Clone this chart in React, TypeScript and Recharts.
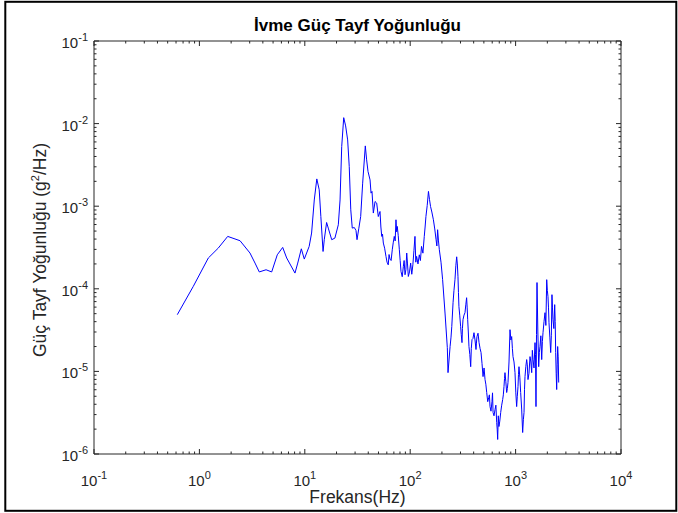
import { Line, LineChart, XAxis, YAxis } from "recharts";

// values (Hz, g^2/Hz)
const frequencyHz = [
  0.617, 0.875, 1.215, 1.51, 1.856, 2.43, 3.02, 3.37, 3.7, 4.29,
  4.85, 5.48, 6.17, 6.73, 8.07, 8.57, 9.27, 9.89, 11.0, 11.6,
  12.3, 13.0, 13.7, 14.2, 14.9, 15.3, 16.1, 16.7, 18.0, 19.3,
  20.8, 21.6, 22.4, 23.4, 24.4, 25.5, 26.4, 27.3, 28.2, 29.5,
  30.6, 31.3, 32.5, 33.9, 35.4, 37.5, 38.6, 39.8, 41.6, 42.5,
  43.4, 44.7, 46.4, 48.1, 49.8, 51.7, 52.7, 53.7, 54.6, 55.6,
  57.2, 58.9, 60.3, 61.9, 63.0, 64.3, 65.9, 67.6, 69.0, 70.6,
  72.0, 73.3, 74.4, 75.4, 77.0, 78.9, 80.3, 81.8, 84.0, 86.1,
  87.6, 89.3, 91.0, 92.7, 94.3, 96.0, 98.5, 101, 103.5, 106,
  108.5, 111, 113, 115, 118.5, 122, 125, 128, 132, 136,
  138.5, 141, 145, 149, 152.5, 156, 160.5, 166, 171, 176,
  179, 182, 185.5, 189, 196, 203, 214, 225, 228.5, 239,
  244, 248, 255, 260, 266, 271, 276, 280, 284, 287,
  290, 295, 301, 305, 310, 313, 317, 324, 331, 337,
  343, 347, 351, 356, 361, 368, 375, 380, 386, 394,
  403, 412, 421, 425, 430, 440, 450, 460, 470, 480,
  491, 502, 513, 522, 532, 544, 556, 564, 572, 584,
  597, 604, 611, 624, 638, 650, 662, 669, 676, 685,
  695, 708, 722, 738, 754, 765, 776, 785, 793, 808,
  823, 835, 847, 866, 885, 902, 918, 932, 945, 966,
  987, 1005, 1023, 1038, 1054, 1065, 1077, 1097, 1117, 1142,
  1167, 1185, 1202, 1215, 1228, 1251, 1274, 1292, 1311, 1340,
  1370, 1396, 1422, 1442, 1463, 1495, 1528, 1545, 1561, 1579,
  1596, 1626, 1656, 1680, 1704, 1736, 1769, 1795, 1820, 1860,
  1901, 1937, 1973, 2001, 2029, 2051, 2074, 2113, 2153, 2183,
  2213, 2238, 2263, 2306, 2349, 2375, 2400, 2427, 2453, 2480,
  2507, 2535, 2564,
];

const psdValues = [
  4.86e-5, 1.07e-4, 2.36e-4, 3.11e-4, 4.31e-4, 3.82e-4, 2.71e-4, 2.05e-4, 1.6e-4, 1.7e-4,
  1.6e-4, 2.58e-4, 3.17e-4, 2.36e-4, 1.55e-4, 2.05e-4, 3.05e-4, 2.29e-4, 3.26e-4, 4.73e-4,
  1.19e-3, 2.14e-3, 1.58e-3, 7.5e-4, 2.83e-4, 3.93e-4, 6.35e-4, 5.43e-4, 3.93e-4, 4.11e-4,
  5.96e-4, 1.19e-3, 5.27e-3, 1.18e-2, 9.38e-3, 6.35e-3, 3.02e-3, 9.04e-4, 5.43e-4, 5.52e-4,
  5.08e-4, 3.93e-4, 5.33e-4, 7.5e-4, 1.9e-3, 5.37e-3, 3.64e-3, 2.63e-3, 2.08e-3, 1.44e-3,
  1.51e-3, 8.26e-4, 1.14e-3, 1.09e-3, 7.5e-4, 8.63e-4, 5.6e-4, 4.31e-4, 4.6e-4, 3.58e-4,
  3.1e-4, 2.47e-4, 2.1e-4, 1.95e-4, 2.6e-4, 2.29e-4, 2.2e-4, 2.97e-4, 3.6e-4, 4.31e-4,
  3.8e-4, 6.85e-4, 4.9e-4, 5.69e-4, 4.4e-4, 2.97e-4, 2.2e-4, 1.62e-4, 1.4e-4, 1.87e-4,
  2.2e-4, 1.48e-4, 1.7e-4, 2.71e-4, 2.0e-4, 1.41e-4, 1.6e-4, 2.05e-4, 1.5e-4, 1.95e-4,
  2.9e-4, 4.31e-4, 2.1e-4, 2.47e-4, 2.0e-4, 2.58e-4, 2.2e-4, 3.26e-4, 2.7e-4, 4.31e-4,
  5.6e-4, 7.5e-4, 1.02e-3, 1.51e-3, 1.2e-3, 9.91e-4, 8.5e-4, 6.85e-4, 5.3e-4, 3.93e-4,
  3.3e-4, 5.19e-4, 3.8e-4, 2.97e-4, 2.1e-4, 1.29e-4, 5.09e-5, 1.94e-5, 9.66e-6, 2.0e-5,
  2.6e-5, 3.48e-5, 6.79e-5, 9.5e-5, 1.29e-4, 1.9e-4, 2.44e-4, 2.0e-4, 1.4e-4, 9.0e-5,
  6.08e-5, 4.8e-5, 3.48e-5, 2.8e-5, 2.23e-5, 3.3e-5, 4.23e-5, 4.8e-5, 5.14e-5, 6.4e-5,
  7.8e-5, 6.0e-5, 4.23e-5, 3.0e-5, 2.0e-5, 1.6e-5, 1.14e-5, 1.9e-5, 2.43e-5, 2.5e-5,
  2.94e-5, 2.4e-5, 1.84e-5, 2.2e-5, 2.64e-5, 2.9e-5, 2.23e-5, 1.9e-5, 1.69e-5, 1.25e-5,
  8.65e-6, 1.1e-5, 7.96e-6, 7.0e-6, 5.55e-6, 4.3e-6, 4.82e-6, 5.2e-6, 3.75e-6, 3.3e-6,
  4.32e-6, 5.5e-6, 3.18e-6, 2.9e-6, 3.45e-6, 3.9e-6, 2.4e-6, 2.0e-6, 1.5e-6, 2.9e-6,
  2.15e-6, 2.5e-6, 3.18e-6, 3.9e-6, 4.56e-6, 5.2e-6, 6.55e-6, 8.2e-6, 9.66e-6, 7.5e-6,
  5.55e-6, 6.2e-6, 7.33e-6, 1.3e-5, 3.2e-5, 2.4e-5, 2.64e-5, 1.9e-5, 1.51e-5, 1.3e-5,
  9.66e-6, 5.5e-6, 3.75e-6, 5.0e-6, 6.55e-6, 9.2e-6, 1.14e-5, 8.5e-6, 5.55e-6, 3.5e-6,
  1.82e-6, 2.6e-6, 3.18e-6, 6.0e-6, 8.65e-6, 1.15e-5, 1.39e-5, 1.2e-5, 7.96e-6, 9.5e-6,
  1.51e-5, 1.3e-5, 9.66e-6, 1.8e-5, 1.39e-5, 1.1e-5, 2.23e-5, 1.6e-5, 3.75e-6, 2.8e-5,
  1.19e-4, 3.0e-5, 1.14e-5, 1.7e-5, 2.0e-5, 2.7e-5, 1.39e-5, 2.3e-5, 2.94e-5, 4.0e-5,
  5.14e-5, 3.6e-5, 1.29e-4, 9.5e-5, 8.02e-5, 6.0e-5, 3.89e-5, 2.6e-5, 1.69e-5, 2.7e-5,
  8.49e-5, 6.0e-5, 4.23e-5, 3.3e-5, 6.43e-5, 4.0e-5, 1.69e-5, 9.5e-6, 6.03e-6, 1.2e-5,
  2.0e-5, 1.5e-5, 7.33e-6,
];

const xDecades = [0.1, 1, 10, 100, 1000, 10000];
const xExponents = ["-1", "0", "1", "2", "3", "4"];
const yDecades = [1e-6, 1e-5, 1e-4, 1e-3, 1e-2, 1e-1];
const yExponents = ["-6", "-5", "-4", "-3", "-2", "-1"];

const AXIS_COLOR = "#262626";
const FONT = "'Liberation Sans', Arial, Helvetica, sans-serif";
const MAJOR = 5;
const MINOR = 2.5;

function withMinorTicks(decades: number[]) {
  const ticks: number[] = [];
  decades.forEach((d, i) => {
    ticks.push(d);
    if (i < decades.length - 1) {
      for (let k = 2; k <= 9; k++) ticks.push(d * k);
    }
  });
  return ticks;
}

const xTicks = withMinorTicks(xDecades);
const yTicks = withMinorTicks(yDecades);

const chartData = frequencyHz.map((f, i) => ({ f, psd: psdValues[i] }));

function BottomTick({ x, y, payload }: any) {
  const i = xDecades.indexOf(payload.value);
  return (
    <g>
      <line x1={x} x2={x} y1={y} y2={y - (i >= 0 ? MAJOR : MINOR)} stroke={AXIS_COLOR} />
      {i >= 0 && (
        <text x={x} y={y + 32} textAnchor="middle" fontSize={15} fill={AXIS_COLOR} fontFamily={FONT}>
          10
          <tspan dy={-7} fontSize={11}>
            {xExponents[i]}
          </tspan>
        </text>
      )}
    </g>
  );
}

function TopTick({ x, y, payload }: any) {
  const major = xDecades.indexOf(payload.value) >= 0;
  return <line x1={x} x2={x} y1={y} y2={y + (major ? MAJOR : MINOR)} stroke={AXIS_COLOR} />;
}

function LeftTick({ x, y, payload }: any) {
  const i = yDecades.indexOf(payload.value);
  return (
    <g>
      <line x1={x} x2={x + (i >= 0 ? MAJOR : MINOR)} y1={y} y2={y} stroke={AXIS_COLOR} />
      {i >= 0 && (
        <text x={x - 6} y={y + 7} textAnchor="end" fontSize={15} fill={AXIS_COLOR} fontFamily={FONT}>
          10
          <tspan dy={-7} fontSize={11}>
            {yExponents[i]}
          </tspan>
        </text>
      )}
    </g>
  );
}

function RightTick({ x, y, payload }: any) {
  const major = yDecades.indexOf(payload.value) >= 0;
  return <line x1={x} x2={x - (major ? MAJOR : MINOR)} y1={y} y2={y} stroke={AXIS_COLOR} />;
}

export default function App() {
  return (
    <div style={{ position: "absolute", left: 0, top: 0, width: 678, height: 513, background: "#fff" }}>
      <LineChart width={678} height={513} data={chartData} margin={{ top: 0, right: 0, bottom: 0, left: 0 }}>
        <XAxis
          xAxisId="bottom"
          dataKey="f"
          type="number"
          scale="log"
          domain={[0.1, 10000]}
          allowDataOverflow
          ticks={xTicks}
          interval={0}
          height={59}
          tickSize={0}
          tickMargin={0}
          tickLine={false}
          axisLine={{ stroke: AXIS_COLOR }}
          tick={<BottomTick />}
        />
        <XAxis
          xAxisId="top"
          orientation="top"
          dataKey="f"
          type="number"
          scale="log"
          domain={[0.1, 10000]}
          allowDataOverflow
          ticks={xTicks}
          interval={0}
          height={41}
          tickSize={0}
          tickMargin={0}
          tickLine={false}
          axisLine={{ stroke: AXIS_COLOR }}
          tick={<TopTick />}
        />
        <YAxis
          yAxisId="left"
          type="number"
          scale="log"
          domain={[1e-6, 1e-1]}
          allowDataOverflow
          ticks={yTicks}
          interval={0}
          width={94}
          tickSize={0}
          tickMargin={0}
          tickLine={false}
          axisLine={{ stroke: AXIS_COLOR }}
          tick={<LeftTick />}
        />
        <YAxis
          yAxisId="right"
          orientation="right"
          type="number"
          scale="log"
          domain={[1e-6, 1e-1]}
          allowDataOverflow
          ticks={yTicks}
          interval={0}
          width={57}
          tickSize={0}
          tickMargin={0}
          tickLine={false}
          axisLine={{ stroke: AXIS_COLOR }}
          tick={<RightTick />}
        />
        <Line
          xAxisId="bottom"
          yAxisId="left"
          type="linear"
          dataKey="psd"
          stroke="#0000ff"
          strokeWidth={1}
          dot={false}
          activeDot={false}
          isAnimationActive={false}
        />
      </LineChart>
      <svg
        width={678}
        height={513}
        style={{ position: "absolute", left: 0, top: 0, pointerEvents: "none" }}
        fontFamily={FONT}
      >
        <rect x={5.3} y={1.8} width={671} height={509} fill="none" stroke="#000" strokeWidth={2} />
        <text x={357.5} y={31} textAnchor="middle" fontSize={17} fontWeight="bold" fill="#000">
          İvme Güç Tayf Yoğunluğu
        </text>
        <text x={357.5} y={503} textAnchor="middle" fontSize={17.5} fill={AXIS_COLOR}>
          Frekans(Hz)
        </text>
        <text
          transform="translate(46 250) rotate(-90)"
          textAnchor="middle"
          fontSize={17.5}
          fill={AXIS_COLOR}
        >
          Güç Tayf Yoğunluğu (g
          <tspan dy={-7} fontSize={11}>
            2
          </tspan>
          <tspan dy={7}>/Hz)</tspan>
        </text>
      </svg>
    </div>
  );
}
